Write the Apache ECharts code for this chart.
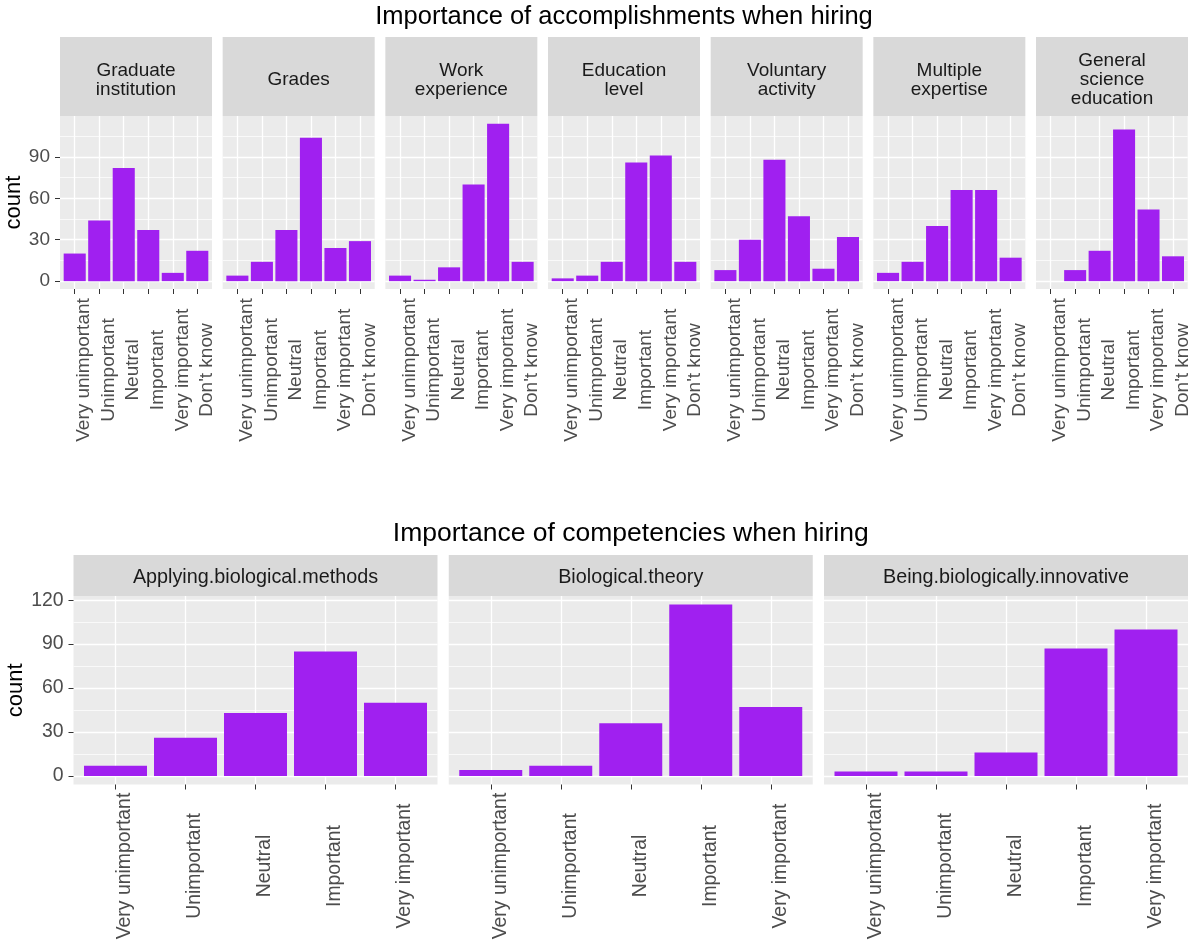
<!DOCTYPE html>
<html>
<head>
<meta charset="utf-8">
<script src="https://cdn.jsdelivr.net/npm/echarts@6/dist/echarts.min.js"></script>
<style>
html, body { margin: 0; padding: 0; background: #fff; }
#main { width: 1192px; height: 945px; }
</style>
</head>
<body>
<div id="main"></div>
<script>
// data
var topTitle = 'Importance of accomplishments when hiring';
var topCategories = ['Very unimportant', 'Unimportant', 'Neutral', 'Important', 'Very important', "Don't know"];
var topFacets = ['Graduate\ninstitution', 'Grades', 'Work\nexperience', 'Education\nlevel',
                 'Voluntary\nactivity', 'Multiple\nexpertise', 'General\nscience\neducation'];
var graduateInstitution = [20, 44, 82, 37, 6, 22];
var grades = [4, 14, 37, 104, 24, 29];
var workExperience = [4, 1, 10, 70, 114, 14];
var educationLevel = [2, 4, 14, 86, 91, 14];
var voluntaryActivity = [8, 30, 88, 47, 9, 32];
var multipleExpertise = [6, 14, 40, 66, 66, 17];
var generalScience = [0, 8, 22, 110, 52, 18];
var topTicks = [0, 30, 60, 90];

var bottomTitle = 'Importance of competencies when hiring';
var bottomCategories = ['Very unimportant', 'Unimportant', 'Neutral', 'Important', 'Very important'];
var bottomFacets = ['Applying.biological.methods', 'Biological.theory', 'Being.biologically.innovative'];
var applyingMethods = [7, 26, 43, 85, 50];
var biologicalTheory = [4, 7, 36, 117, 47];
var beingInnovative = [3, 3, 16, 87, 100];
var bottomTicks = [0, 30, 60, 90, 120];

var FONT = '"Liberation Sans", Arial, sans-serif';
var BAR = '#A020F0';

var grids = [], xAxes = [], yAxes = [], series = [], graphics = [];

function addRow(row) {
  var n = row.categories.length;
  var catTicks = row.categories.map(function (c, i) { return i + 1; });
  // ggplot style expansion of the count scale
  var yMax = 0;
  row.counts.forEach(function (arr) { arr.forEach(function (v) { if (v > yMax) yMax = v; }); });
  var yLo = -0.05 * yMax, yHi = yMax * 1.05;
  var minor = [];
  for (var t = 15; t < yHi; t += 30) minor.push(t);

  row.facets.forEach(function (facet, k) {
    var gi = grids.length;
    var left = row.left + k * row.step;
    grids.push({
      left: left, top: row.top, width: row.width, height: row.height,
      show: true, backgroundColor: '#ebebeb', borderWidth: 0
    });
    xAxes.push({
      type: 'value', gridIndex: gi, min: 0.4, max: n + 0.6,
      axisLine: { show: false, onZero: false },
      axisTick: { customValues: catTicks, length: 5, lineStyle: { color: '#333333', width: 1 } },
      axisLabel: {
        customValues: catTicks,
        formatter: function (v) { return row.categories[Math.round(v) - 1]; },
        rotate: 90, align: 'center', verticalAlign: 'top', margin: row.labelMargin,
        fontSize: row.labelSize, color: '#4d4d4d', fontFamily: FONT
      },
      splitLine: { show: true, lineStyle: { color: '#ffffff', width: 1.3 } }
    });
    var yi = yAxes.length;
    yAxes.push({
      type: 'value', gridIndex: gi, min: yLo, max: yHi,
      axisLine: { show: false, onZero: false },
      axisTick: { show: k === 0, customValues: row.ticks, length: 5, lineStyle: { color: '#333333' } },
      axisLabel: {
        show: k === 0, customValues: row.ticks, margin: 10,
        fontSize: row.labelSize, color: '#4d4d4d', fontFamily: FONT
      },
      splitLine: { show: true, lineStyle: { color: '#ffffff', width: 1.3 } },
      name: k === 0 ? 'count' : '', nameLocation: 'middle', nameRotate: 90, nameGap: 31,
      nameTextStyle: { fontSize: 22, color: '#000000', fontFamily: FONT }
    });
    // minor gridlines
    yAxes.push({
      type: 'value', gridIndex: gi, min: yLo, max: yHi, position: 'left',
      axisLine: { show: false, onZero: false },
      axisTick: { show: false, customValues: minor },
      axisLabel: { show: false },
      splitLine: { show: true, lineStyle: { color: '#ffffff', width: 0.7 } }
    });
    var points = [];
    row.counts[k].forEach(function (v, i) { if (v > 0) points.push([i + 1, v]); });
    series.push({
      type: 'bar', xAxisIndex: gi, yAxisIndex: yi, barWidth: '90%', silent: true,
      itemStyle: { color: BAR },
      data: points
    });
    graphics.push({
      type: 'rect', silent: true,
      shape: { x: left, y: row.stripTop, width: row.width, height: row.top - row.stripTop },
      style: { fill: '#d9d9d9' }
    });
    graphics.push({
      type: 'text', silent: true,
      x: left + row.width / 2, y: (row.stripTop + row.top) / 2 + row.stripShift,
      style: {
        text: facet, align: 'center', verticalAlign: 'middle', lineHeight: 19,
        fontSize: row.stripSize, fontFamily: FONT, fill: '#1a1a1a'
      }
    });
  });
  var last = row.left + (row.facets.length - 1) * row.step + row.width;
  graphics.push({
    type: 'text', silent: true,
    x: (row.left + last) / 2, y: row.titleY,
    style: { text: row.title, align: 'center', verticalAlign: 'middle', fontSize: row.titleSize, fontFamily: FONT, fill: '#000000' }
  });
}

addRow({
  title: topTitle, titleY: 17, titleSize: 25.5, categories: topCategories, facets: topFacets,
  counts: [graduateInstitution, grades, workExperience, educationLevel, voluntaryActivity, multipleExpertise, generalScience],
  ticks: topTicks, left: 60, step: 162.67, width: 152, stripTop: 37, top: 116, height: 173,
  labelMargin: 81, labelSize: 19, stripSize: 19, stripShift: 3.5
});
addRow({
  title: bottomTitle, titleY: 533.5, titleSize: 26.5, categories: bottomCategories, facets: bottomFacets,
  counts: [applyingMethods, biologicalTheory, beingInnovative],
  ticks: bottomTicks, left: 73.5, step: 375.25, width: 364, stripTop: 555, top: 596, height: 188.5,
  labelMargin: 81.5, labelSize: 19.4, stripSize: 19.8, stripShift: 2.5
});

var chart = echarts.init(document.getElementById('main'));
chart.setOption({
  animation: false,
  backgroundColor: '#ffffff',
  grid: grids,
  xAxis: xAxes,
  yAxis: yAxes,
  series: series,
  graphic: graphics
});
</script>
</body>
</html>
